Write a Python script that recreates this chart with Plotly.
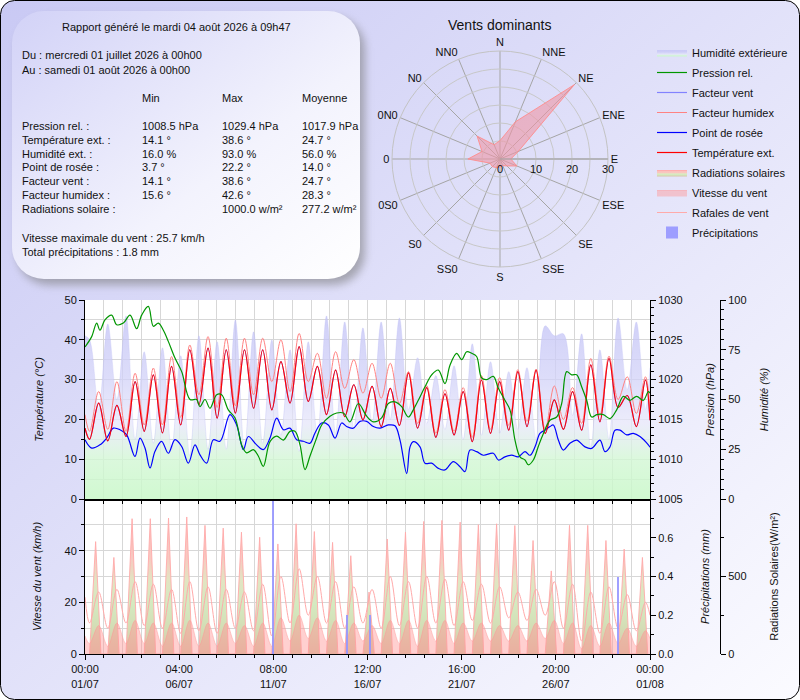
import base64
import pandas as pd
import plotly.graph_objects as go

W, H = 800, 700
FONT = "Liberation Sans, Arial, sans-serif"
start = pd.Timestamp("2026-07-01 00:00")

# ---- données ----
# relevés à 06h et 18h chaque jour, plus début et fin de période
half_day_hours = [0] + [24 * d + h for d in range(31) for h in (6, 18)] + [744]

temperature = [17.8,
               15.0, 24.1, 14.6, 23.5, 15.7, 29.5, 17.0, 31.2, 16.6, 33.3,
               18.6, 37.5, 23.7, 37.9, 20.3, 37.5, 21.6, 37.5, 22.8, 37.5,
               22.4, 34.5, 24.1, 38.3, 24.5, 33.3, 21.2, 32.4, 20.7, 28.7,
               19.9, 28.3, 18.2, 27.8, 18.5, 31.7, 17.8, 28.0, 15.5, 26.4,
               16.1, 27.0, 14.4, 29.9, 16.5, 29.5, 17.3, 32.0, 18.2, 32.4,
               16.5, 24.9, 17.5, 27.0, 17.3, 33.7, 19.4, 35.3, 23.0, 26.0,
               18.2, 29.9,
               19.8]
humidex = [21.2,
           17.0, 27.0, 17.5, 29.5, 17.0, 31.6, 18.6, 32.9, 18.6, 35.8,
           20.5, 38.7, 26.2, 40.8, 23.0, 40.4, 23.4, 40.4, 26.2, 40.4,
           29.5, 40.0, 27.0, 41.6, 29.5, 36.6, 25.3, 37.0, 27.8, 35.0,
           26.6, 34.1, 25.3, 34.1, 24.0, 32.0, 19.0, 28.5, 16.5, 27.5,
           17.0, 28.0, 15.5, 31.0, 17.5, 30.5, 18.5, 32.5, 19.5, 32.6,
           17.5, 28.4, 20.0, 28.0, 19.0, 35.3, 21.0, 35.9, 25.0, 30.7,
           21.5, 30.7,
           22.0]
humidity = [82,
            80, 45, 88, 50, 92, 30, 74, 28, 76, 25,
            72, 22, 82, 25, 79, 25, 90, 25, 84, 28,
            80, 32, 75, 24, 79, 32, 92, 33, 89, 35,
            86, 38, 89, 40, 91, 45, 71, 38, 62, 35,
            67, 30, 78, 32, 69, 33, 64, 35, 66, 30,
            87, 82, 83, 42, 83, 26, 75, 30, 91, 55,
            89, 45,
            66]
wind_speed = [7,
              4, 11, 3, 12, 4, 13, 4, 12, 3, 12,
              3, 13, 3, 12, 3, 12, 4, 11, 3, 12,
              3, 14, 5, 15, 6, 14, 5, 13, 4, 12,
              5, 11, 4, 13, 4, 13, 3, 13, 5, 13,
              4, 12, 5, 12, 5, 11, 5, 11, 5, 12,
              6, 13, 4, 12, 2, 11, 3, 12, 4, 10,
              3, 9,
              6]
wind_gust = [22,
             12, 24, 10, 25, 12, 28, 11, 27, 10, 25,
             8, 28, 9, 26, 8, 25, 10, 24, 9, 27,
             7, 30, 12, 33, 15, 30, 12, 28, 10, 26,
             12, 25, 10, 30, 11, 28, 10, 30, 12, 29,
             11, 28, 13, 27, 12, 26, 14, 24, 13, 25,
             15, 28, 10, 27, 5, 24, 8, 26, 10, 23,
             9, 20,
             15]

pressure_hours = [0, 8.8, 15.4, 19.7, 26.3, 35.1, 41.7, 50.5, 59.3, 68.0,
                  74.6, 83.4, 90.0, 96.6, 103.2, 109.7, 118.5, 127.3, 138.3, 147.0,
                  151.4, 158.0, 164.6, 173.4, 179.9, 188.7, 197.5, 206.3, 212.9, 221.7,
                  228.2, 234.8, 243.6, 252.4, 261.2, 269.9, 276.5, 283.1, 289.7, 296.3,
                  305.1, 311.6, 322.6, 331.4, 340.2, 348.9, 359.9, 370.9, 379.7, 390.6,
                  399.4, 408.2, 417.0, 425.8, 432.3, 438.9, 447.7, 456.5, 465.3, 474.0,
                  480.6, 489.4, 496.0, 502.6, 509.2, 515.7, 522.3, 528.9, 537.7, 544.3,
                  553.0, 559.6, 566.2, 572.8, 579.4, 583.8, 590.4, 596.9, 603.5, 612.3,
                  621.1, 627.7, 634.3, 640.8, 647.4, 654.0, 660.6, 667.2, 673.8, 682.5,
                  691.3, 700.1, 708.9, 717.6, 726.4, 735.2, 741.8, 744]
pressure = [1024.1, 1025.4, 1027.1, 1026.2, 1027.5, 1028.1, 1026.9, 1027.1, 1028.1, 1026.4,
            1028.1, 1029.2, 1026.7, 1027.1, 1026.2, 1024.8, 1022.7, 1021.0, 1017.5, 1017.5,
            1016.6, 1017.5, 1016.4, 1018.1, 1018.1, 1016.2, 1015.2, 1011.8, 1010.8, 1011.2,
            1010.4, 1009.1, 1012.2, 1012.9, 1012.4, 1013.5, 1013.5, 1011.8, 1008.7, 1010.4,
            1012.7, 1014.3, 1015.4, 1015.8, 1015.8, 1014.7, 1017.0, 1015.4, 1014.7, 1015.2,
            1017.0, 1017.2, 1016.6, 1015.3, 1016.2, 1017.4, 1019.1, 1020.6, 1021.2, 1019.5,
            1021.8, 1023.3, 1022.5, 1023.5, 1023.3, 1022.9, 1020.2, 1020.0, 1020.4, 1018.9,
            1017.4, 1016.2, 1012.4, 1010.3, 1009.9, 1009.3, 1009.9, 1011.6, 1013.2, 1014.9,
            1015.3, 1017.0, 1021.0, 1020.6, 1020.6, 1019.1, 1017.4, 1015.3, 1015.6, 1015.6,
            1015.1, 1016.2, 1017.9, 1017.4, 1017.9, 1017.4, 1018.5, 1018.3]

dew_hours = [0, 8.8, 19.7, 28.5, 37.3, 46.1, 54.9, 65.8, 72.4, 79.0,
             85.6, 92.2, 100.9, 109.7, 118.5, 127.3, 136.1, 144.8, 151.4, 160.2,
             169.0, 177.8, 190.9, 199.7, 208.5, 215.1, 226.0, 234.8, 243.6, 252.4,
             261.2, 269.9, 278.7, 287.5, 296.3, 302.9, 311.6, 320.4, 329.2, 338.0,
             344.6, 353.3, 362.1, 370.9, 379.7, 388.5, 399.4, 408.2, 414.8, 423.6,
             428.0, 432.3, 441.1, 447.7, 456.5, 465.3, 474.0, 485.0, 493.8, 500.4,
             507.0, 515.7, 524.5, 537.7, 544.3, 553.0, 561.8, 570.6, 579.4, 586.0,
             592.6, 599.1, 605.7, 612.3, 616.7, 623.3, 629.9, 638.6, 647.4, 658.4,
             667.2, 678.1, 684.7, 691.3, 697.9, 704.5, 713.3, 722.0, 730.8, 741.8, 744]
dew_point = [14.9, 12.8, 13.6, 15.3, 17.8, 17.4, 16.1, 10.7, 15.3, 12.8,
             7.8, 12.0, 14.5, 11.5, 14.9, 13.2, 9.0, 13.6, 11.1, 9.0,
             14.9, 14.5, 21.2, 18.6, 12.4, 15.7, 13.6, 12.4, 15.3, 20.3,
             17.4, 17.8, 14.9, 14.5, 14.0, 16.6, 19.1, 18.6, 15.3, 19.1,
             18.2, 17.8, 19.5, 19.5, 18.2, 17.8, 18.6, 18.4, 14.8, 6.4,
             13.1, 14.4, 13.1, 9.0, 9.0, 7.7, 7.3, 9.4, 8.1, 6.9,
             12.3, 11.9, 11.0, 11.5, 9.8, 10.6, 11.0, 10.6, 11.9, 11.0,
             13.1, 16.5, 17.3, 18.2, 18.6, 14.8, 12.3, 14.0, 14.8, 13.1,
             12.7, 14.8, 11.9, 13.1, 17.3, 17.3, 16.1, 16.5, 15.7, 13.6, 13.0]

# pic journalier du rayonnement (W/m²), nul la nuit
radiation_peaks = [725, 623, 873, 873, 877, 884, 830, 812, 786, 753,
                   710, 840, 790, 720, 634, 400, 742, 786, 855, 862,
                   851, 834, 840, 829, 732, 536, 830, 830, 732, 677, 623]

rain_hours = [248, 345, 375, 702]
rain_mm = [1.0, 0.2, 0.2, 0.4]

directions = ["N", "NNE", "NE", "ENE", "E", "ESE", "SE", "SSE",
              "S", "SS0", "S0", "0S0", "0", "0N0", "N0", "NN0"]
direction_freq = [5.1, 11.2, 29.2, 5.5, 3.0, 5.1, 2.7, 2.0,
                  2.2, 2.6, 3.0, 3.0, 8.9, 5.4, 9.0, 4.3]

stat_labels = ["Pression rel. :", "Température ext. :", "Humidité ext. :", "Point de rosée :",
               "Facteur vent :", "Facteur humidex :", "Radiations solaire :"]
stat_min = ["1008.5 hPa", "14.1 °", "16.0 %", "3.7 °", "14.1 °", "15.6 °", ""]
stat_max = ["1029.4 hPa", "38.6 °", "93.0 %", "22.2 °", "38.6 °", "42.6 °", "1000.0 w/m²"]
stat_avg = ["1017.9 hPa", "24.7 °", "56.0 %", "14.0 °", "24.7 °", "28.3 °", "277.2 w/m²"]


def at(hours):
    return [start + pd.Timedelta(hours=h) for h in hours]


t_half = at(half_day_hours)
rad_hours, rad_values = [], []
for d, peak in enumerate(radiation_peaks):
    rad_hours += [24 * d + 6, 24 * d + 14, 24 * d + 21]
    rad_values += [0, peak, 0]

fig = go.Figure()

# ---- panneau du haut : y = humidité (fond), y2 = températures, y3 = pression ----
fig.add_trace(go.Scatter(
    x=t_half, y=humidity, name="Humidité extérieure", xaxis="x2", yaxis="y",
    mode="lines", line=dict(color="rgba(185,185,245,0.6)", width=0.5, shape="spline"),
    fill="tozeroy",
    fillgradient=dict(type="vertical", start=0, stop=100,
                      colorscale=[[0, "rgba(200,248,200,0.85)"], [0.2, "rgba(210,247,212,0.8)"],
                                  [0.38, "rgba(230,230,250,0.75)"], [0.6, "rgba(210,210,248,0.75)"],
                                  [1, "rgba(192,192,245,0.8)"]])))
fig.add_trace(go.Scatter(x=at(pressure_hours), y=pressure, name="Pression rel.",
                         xaxis="x2", yaxis="y3", mode="lines",
                         line=dict(color="rgb(0,150,0)", width=1.2, shape="spline")))
fig.add_trace(go.Scatter(x=t_half, y=temperature, name="Facteur vent",
                         xaxis="x2", yaxis="y2", mode="lines",
                         line=dict(color="rgb(130,130,255)", width=1.2, shape="spline")))
fig.add_trace(go.Scatter(x=t_half, y=humidex, name="Facteur humidex",
                         xaxis="x2", yaxis="y2", mode="lines",
                         line=dict(color="rgb(255,130,130)", width=1, shape="spline")))
fig.add_trace(go.Scatter(x=at(dew_hours), y=dew_point, name="Point de rosée",
                         xaxis="x2", yaxis="y2", mode="lines",
                         line=dict(color="rgb(0,0,255)", width=1.2, shape="spline")))
fig.add_trace(go.Scatter(x=t_half, y=temperature, name="Température ext.",
                         xaxis="x2", yaxis="y2", mode="lines",
                         line=dict(color="rgb(255,0,0)", width=1.2, shape="spline")))

# ---- panneau du bas : y4 = rayonnement (fond), y5 = vent, y6 = pluie ----
fig.add_trace(go.Scatter(
    x=at(rad_hours), y=rad_values, name="Radiations solaires", xaxis="x", yaxis="y4",
    mode="lines", line=dict(color="rgba(255,170,170,0.9)", width=1),
    fill="tozeroy",
    fillgradient=dict(type="vertical", start=0, stop=1000,
                      colorscale=[[0, "rgb(216,196,166)"], [0.18, "rgb(212,222,182)"],
                                  [0.32, "rgb(212,234,192)"], [0.48, "rgb(226,228,194)"],
                                  [0.62, "rgb(248,200,192)"], [1, "rgb(252,190,188)"]])))
fig.add_trace(go.Scatter(x=t_half, y=wind_speed, name="Vitesse du vent",
                         xaxis="x", yaxis="y5", mode="lines", fill="tozeroy",
                         fillcolor="rgba(255,150,150,0.45)",
                         line=dict(color="rgba(255,150,150,0.6)", width=0.8, shape="spline")))
fig.add_trace(go.Scatter(x=t_half, y=wind_gust, name="Rafales de vent",
                         xaxis="x", yaxis="y5", mode="lines",
                         line=dict(color="rgb(255,170,170)", width=1, shape="spline")))
fig.add_trace(go.Bar(x=at(rain_hours), y=rain_mm, name="Précipitations",
                     xaxis="x", yaxis="y6", width=2.5 * 3600 * 1000,
                     marker=dict(color="rgba(150,150,255,0.9)", line=dict(width=0))))

# une entrée de légende par groupe, pour régler l'interligne
for tr in fig.data:
    tr.legendgroup = tr.name

# ---- rose des vents ----
angles = [22.5 * i for i in range(16)]
fig.add_trace(go.Scatterpolar(
    r=direction_freq + direction_freq[:1], theta=angles + angles[:1],
    mode="lines", fill="toself", fillcolor="rgba(238,150,165,0.6)",
    line=dict(color="rgba(255,140,140,0.9)", width=1), showlegend=False))

# ---- mise en page ----
X_DOM = [85 / W, 650 / W]
TOP = [1 - 499 / H, 1 - 300 / H]
BOT = [1 - 654 / H, 1 - 499 / H]
FAR = 720 / W
GRID = "rgb(215,215,215)"
tick_font = dict(size=11, color="#111")
hour_ms = 3600 * 1000


def yax(**kw):
    base = dict(showline=True, linecolor="black", linewidth=1, ticks="outside",
                ticklen=5, tickcolor="black", tickfont=tick_font, zeroline=False,
                showgrid=False, fixedrange=True, automargin=False)
    base.update(kw)
    return base


def minor(step, grid=False, **kw):
    d = dict(tickmode="linear", tick0=0, dtick=step, ticks="outside", ticklen=3,
             tickcolor="black", showgrid=grid, gridcolor=GRID)
    d.update(kw)
    return d


xcommon = dict(type="date", domain=X_DOM, range=[start, start + pd.Timedelta(hours=744)],
               tickmode="linear", tick0=start, dtick=124 * hour_ms,
               showgrid=True, gridcolor=GRID, showline=True, linecolor="black",
               zeroline=False, automargin=False,
               minor=dict(tick0=start, dtick=24.8 * hour_ms, showgrid=True, gridcolor=GRID,
                          ticks="outside", ticklen=3, tickcolor="black"))

bg_svg = f"""<svg xmlns="http://www.w3.org/2000/svg" width="{W}" height="{H}">
<defs>
<linearGradient id="bg" x1="0" y1="0" x2="1" y2="1">
<stop offset="0" stop-color="#c9c9f4"/><stop offset="1" stop-color="#fbfbff"/></linearGradient>
<linearGradient id="box" x1="0" y1="0" x2="1" y2="1">
<stop offset="0" stop-color="#d2d2f7"/><stop offset="0.6" stop-color="#f3f3fd"/>
<stop offset="1" stop-color="#ffffff"/></linearGradient>
<filter id="sh"><feGaussianBlur stdDeviation="4"/></filter>
</defs>
<rect x="0.5" y="0.5" width="{W - 1}" height="{H - 1}" rx="14" fill="url(#bg)" stroke="#000"/>
<rect x="17" y="17" width="348" height="268" rx="32" fill="#777" opacity="0.55" filter="url(#sh)"/>
<rect x="12" y="11" width="348" height="268" rx="32" fill="url(#box)"/>
</svg>"""
bg_uri = "data:image/svg+xml;base64," + base64.b64encode(bg_svg.encode("utf-8")).decode()


def txt(s, x, y, size=11, anchor="left"):
    return dict(text=s, x=x / W, y=1 - y / H, xref="paper", yref="paper",
                xanchor=anchor, yanchor="middle", showarrow=False,
                font=dict(size=size, color="#111", family=FONT))


notes = [txt("Rapport généré le mardi 04 août 2026 à 09h47", 60, 27),
         txt("Du : mercredi 01 juillet 2026 à 00h00", 20, 55),
         txt("Au : samedi 01 août 2026 à 00h00", 20, 70),
         txt("Min", 140, 98), txt("Max", 220, 98), txt("Moyenne", 300, 98),
         txt("Vitesse maximale du vent : 25.7 km/h", 20, 238),
         txt("Total précipitations : 1.8 mm", 20, 252),
         txt("Vents dominants", 500, 25, size=14, anchor="center")]
for i, lab in enumerate(stat_labels):
    y = 126 + i * 13.8
    notes += [txt(lab, 20, y), txt(stat_min[i], 140, y),
              txt(stat_max[i], 220, y), txt(stat_avg[i], 300, y)]

fig.update_layout(
    width=W, height=H, margin=dict(l=0, r=0, t=0, b=0, autoexpand=False),
    paper_bgcolor="white", plot_bgcolor="rgba(0,0,0,0)",
    font=dict(family=FONT, size=11, color="#111"),
    images=[dict(source=bg_uri, xref="paper", yref="paper", x=0, y=1, sizex=1, sizey=1,
                 xanchor="left", yanchor="top", sizing="stretch", layer="below")],
    shapes=[dict(type="rect", xref="x2 domain", yref="y domain", x0=0, x1=1, y0=0, y1=1,
                 fillcolor="white", line=dict(width=0), layer="below"),
            dict(type="rect", xref="x domain", yref="y4 domain", x0=0, x1=1, y0=0, y1=1,
                 fillcolor="white", line=dict(width=0), layer="below")],
    annotations=notes,
    showlegend=True,
    legend=dict(x=652 / W, y=1 - 38 / H, xanchor="left", yanchor="top",
                bgcolor="rgba(0,0,0,0)", font=dict(size=11, color="#111"),
                traceorder="grouped", tracegroupgap=1, itemwidth=30),
    bargap=0,
    xaxis=dict(xcommon, anchor="y5", tickformat="%H:%M<br>%d/%m", ticks="outside",
               ticklen=5, tickcolor="black", tickfont=tick_font),
    xaxis2=dict(xcommon, anchor="y2", matches="x", showticklabels=False, ticks="",
                linewidth=2),
    # humidité (axe de base du panneau haut)
    yaxis=yax(domain=TOP, anchor="free", position=FAR, side="right",
              range=[0, 100], dtick=25, minor=minor(5),
              title=dict(text="<i>Humidité (%)</i>", standoff=14, font=dict(size=11))),
    yaxis2=yax(overlaying="y", side="left", anchor="x2", range=[0, 50], dtick=10,
               showgrid=True, gridcolor=GRID, minor=minor(5, grid=True),
               title=dict(text="<i>Température (°C)</i>", standoff=18,
                          font=dict(size=11))),
    yaxis3=yax(overlaying="y", side="right", anchor="x2", range=[1005, 1030], dtick=5,
               minor=minor(1),
               title=dict(text="<i>Pression (hPa)</i>", standoff=24, font=dict(size=11))),
    # rayonnement (axe de base du panneau bas)
    yaxis4=yax(domain=BOT, anchor="free", position=FAR, side="right",
               range=[0, 1000], tickmode="array", tickvals=[0, 500], minor=minor(250),
               title=dict(text="Radiations Solaires(W/m²)", standoff=24,
                          font=dict(size=11))),
    yaxis5=yax(overlaying="y4", side="left", anchor="x", range=[0, 60], tickmode="array",
               tickvals=[0, 20, 40], showgrid=True, gridcolor=GRID,
               minor=minor(10, grid=True),
               title=dict(text="<i>Vitesse du vent (km/h)</i>", standoff=20,
                          font=dict(size=11))),
    yaxis6=yax(overlaying="y4", side="right", anchor="x", range=[0, 0.8],
               tickmode="array", tickvals=[0, 0.2, 0.4, 0.6],
               ticktext=["0.0", "0.2", "0.4", "0.6"], minor=minor(0.1),
               title=dict(text="<i>Précipitations (mm)</i>", standoff=28,
                          font=dict(size=11))),
    polar=dict(
        domain=dict(x=[392 / W, 608 / W], y=[1 - 267 / H, 1 - 51 / H]),
        bgcolor="rgba(0,0,0,0)", gridshape="linear",
        angularaxis=dict(rotation=90, direction="clockwise", tickmode="array",
                         tickvals=angles, ticktext=directions, ticks="",
                         gridcolor="rgb(165,165,165)", linecolor="rgb(195,195,195)",
                         tickfont=dict(size=11, color="#111")),
        radialaxis=dict(range=[0, 30], tickmode="array", tickvals=[0, 5, 10, 15, 20, 25, 30],
                        ticktext=["0", "", "10", "", "20", "", "30"], angle=0, tickangle=0,
                        side="clockwise", ticks="", showline=True,
                        linecolor="rgb(165,165,165)", gridcolor="rgb(200,200,200)",
                        tickfont=dict(size=11, color="#111"))),
)

# la page html garde sinon la marge de 8 px du navigateur
fig.write_html("out.html", config={"displayModeBar": False},
               post_script="document.body.style.margin = '0px';")
